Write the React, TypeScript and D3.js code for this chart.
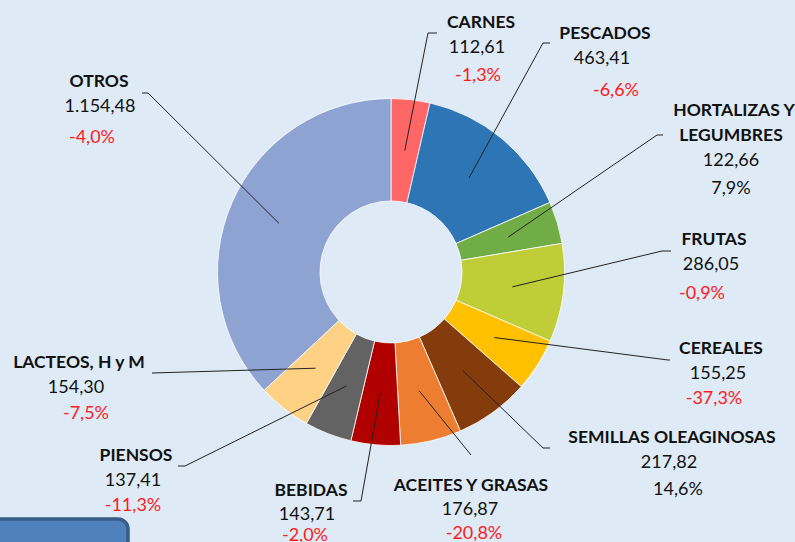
import React from "react";
import * as d3 from "d3";

const categories = ["CARNES", "PESCADOS", "HORTALIZAS Y\nLEGUMBRES", "FRUTAS", "CEREALES", "SEMILLAS OLEAGINOSAS", "ACEITES Y GRASAS", "BEBIDAS", "PIENSOS", "LACTEOS, H y M", "OTROS"];
const values = [112.61, 463.41, 122.66, 286.05, 155.25, 217.82, 176.87, 143.71, 137.41, 154.30, 1154.48];
const valueLabels = ["112,61", "463,41", "122,66", "286,05", "155,25", "217,82", "176,87", "143,71", "137,41", "154,30", "1.154,48"];
const changes = ["-1,3%", "-6,6%", "7,9%", "-0,9%", "-37,3%", "14,6%", "-20,8%", "-2,0%", "-11,3%", "-7,5%", "-4,0%"];
const colors = ["#FF6666", "#2E75B6", "#70AD47", "#BFCD37", "#FFC000", "#843C0C", "#ED7D31", "#B00000", "#636363", "#FFD185", "#8FA3D3"];

// layout: [nameX, nameY, valX, valY, chgX, chgY] (baselines), leader start & elbow
const labelLayout = [
  [481, 28, 477, 53, 478, 81],
  [605, 39, 602, 64, 616, 96],
  [734, 116, 731, 166, 731, 194],
  [714, 245, 711, 270, 702, 299],
  [721, 354, 718, 379, 714, 404],
  [672, 443, 669, 468, 678, 495],
  [471, 491, 470, 515, 474, 539],
  [311, 496, 307, 520, 305, 541],
  [136, 461, 133, 486, 133, 511],
  [79, 368, 76, 393, 86, 419],
  [99, 87, 100, 112, 92, 143],
];
const leaderLayout = [
  [437, 33, 428, 33],
  [550, 43, 543, 43],
  [663, 135, 657, 135],
  [671, 251, 662, 251],
  [670, 360, 668, 360],
  [550, 448, 543, 448],
  [471, 455, 471, 455],
  [353, 501, 361, 501],
  [178, 466, 185, 466],
  [152, 373, 152, 373],
  [142, 93, 148, 93],
];

const W = 795, H = 542;
const cx = 391, cy = 272, R = 173.5, r0 = 71;

export default function App() {
  const pie = d3.pie<number>().sort(null).value((d) => d)(values);
  const arc = d3.arc<d3.PieArcDatum<number>>().innerRadius(r0).outerRadius(R);
  const font = "Lato, 'Open Sans', sans-serif";
  return (
    <svg width={W} height={H} style={{ position: "fixed", left: 0, top: 0 }} fontFamily={font}>
      <rect width={W} height={H} fill="#DEEAF6" />
      <g transform={`translate(${cx},${cy})`}>
        {pie.map((p, i) => (
          <path key={i} d={arc(p) || ""} fill={colors[i]} stroke="#FFFFFF" strokeWidth={1} strokeOpacity={0.8} />
        ))}
      </g>
      {pie.map((p, i) => {
        const [mx, my] = arc.centroid(p);
        const [sx, sy, ex, ey] = leaderLayout[i];
        return (
          <polyline key={"l" + i} points={`${sx},${sy} ${ex},${ey} ${cx + mx},${cy + my}`} fill="none" stroke="#222" strokeWidth={1} />
        );
      })}
      {categories.map((c, i) => {
        const [nx, ny, vx, vy, chx, chy] = labelLayout[i];
        const lines = c.split("\n");
        const neg = changes[i].startsWith("-");
        return (
          <g key={"t" + i}>
            {lines.map((ln, j) => (
              <text key={j} x={nx + (j === 1 ? -3 : 0)} y={ny + j * 25} textAnchor="middle" fontWeight="bold" fontSize={17.5} fill="#111">{ln}</text>
            ))}
            <text x={vx} y={vy} textAnchor="middle" fontSize={18} fill="#111">{valueLabels[i]}</text>
            <text x={chx} y={chy} textAnchor="middle" fontSize={18} fill={neg ? "#FF1A1A" : "#111"}>{changes[i]}</text>
          </g>
        );
      })}
      <rect x={-20} y={519} width={148} height={60} rx={10} fill="#4F81BD" stroke="#385D8A" strokeWidth={3.5} />
    </svg>
  );
}
